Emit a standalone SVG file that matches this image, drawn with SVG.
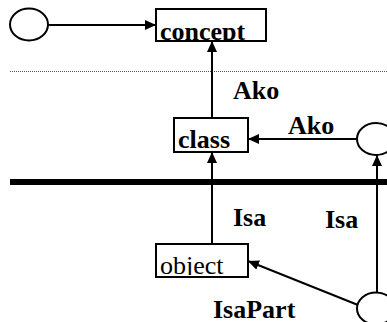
<svg xmlns="http://www.w3.org/2000/svg" width="387" height="322" viewBox="0 0 387 322">
  <style>
    .box { fill: #fff; stroke: #000; stroke-width: 2; }
    .node { fill: #fff; stroke: #000; stroke-width: 2; }
    .edge { fill: none; stroke: #000; stroke-width: 2; marker-end: url(#arrow); }
    .lbl { font-family: "Liberation Serif", "Times New Roman", serif; font-size: 26px; fill: #000; }
    .b { font-weight: bold; }
  </style>
  <defs>
    <marker id="arrow" markerUnits="userSpaceOnUse" markerWidth="12" markerHeight="10" refX="11" refY="5" orient="auto">
      <path d="M0,0 L11,5 L0,10 z" fill="#000"/>
    </marker>
    <clipPath id="clipConcept"><rect x="157" y="10" width="108" height="30"/></clipPath>
    <clipPath id="clipClass"><rect x="175" y="119" width="72" height="32"/></clipPath>
    <clipPath id="clipObject"><rect x="157" y="245" width="90" height="30"/></clipPath>
  </defs>

  <rect width="387" height="322" fill="#fff"/>

  <!-- separators -->
  <line x1="10" y1="71.5" x2="387" y2="71.5" stroke="#555" stroke-width="1" stroke-dasharray="1,1"/>
  <line x1="10" y1="182" x2="387" y2="182" stroke="#000" stroke-width="6"/>

  <g id="connectors">
    <line class="edge" x1="48" y1="25" x2="156" y2="25"/>
    <line class="edge" x1="212" y1="118" x2="212" y2="41"/>
    <line class="edge" x1="357" y1="139" x2="248" y2="139"/>
    <line class="edge" x1="212" y1="244" x2="212" y2="152"/>
    <line class="edge" x1="377" y1="292" x2="377" y2="155"/>
    <line class="edge" x1="358" y1="305" x2="248" y2="261"/>
  </g>

  <g id="start">
    <ellipse class="node" cx="29" cy="24.5" rx="19" ry="16"/>
  </g>

  <g id="concept">
    <rect class="box" x="156" y="9" width="110" height="32"/>
    <text class="lbl b" x="160" y="40" clip-path="url(#clipConcept)">concept</text>
  </g>

  <g id="class">
    <rect class="box" x="174" y="118" width="74" height="34"/>
    <text class="lbl b" x="178" y="148" clip-path="url(#clipClass)">class</text>
  </g>

  <g id="object">
    <rect class="box" x="156" y="244" width="92" height="33"/>
    <text class="lbl" x="160" y="274" clip-path="url(#clipObject)">object</text>
  </g>

  <g id="upper-circle">
    <ellipse class="node" cx="376" cy="139" rx="19" ry="16"/>
  </g>

  <g id="lower-circle">
    <ellipse class="node" cx="376" cy="308.5" rx="19" ry="16"/>
  </g>

  <g id="labels">
    <text class="lbl b" x="233" y="99">Ako</text>
    <text class="lbl b" x="288" y="134">Ako</text>
    <text class="lbl b" x="233" y="226">Isa</text>
    <text class="lbl b" x="325" y="228">Isa</text>
    <text class="lbl b" x="213" y="318">IsaPart</text>
  </g>
</svg>
